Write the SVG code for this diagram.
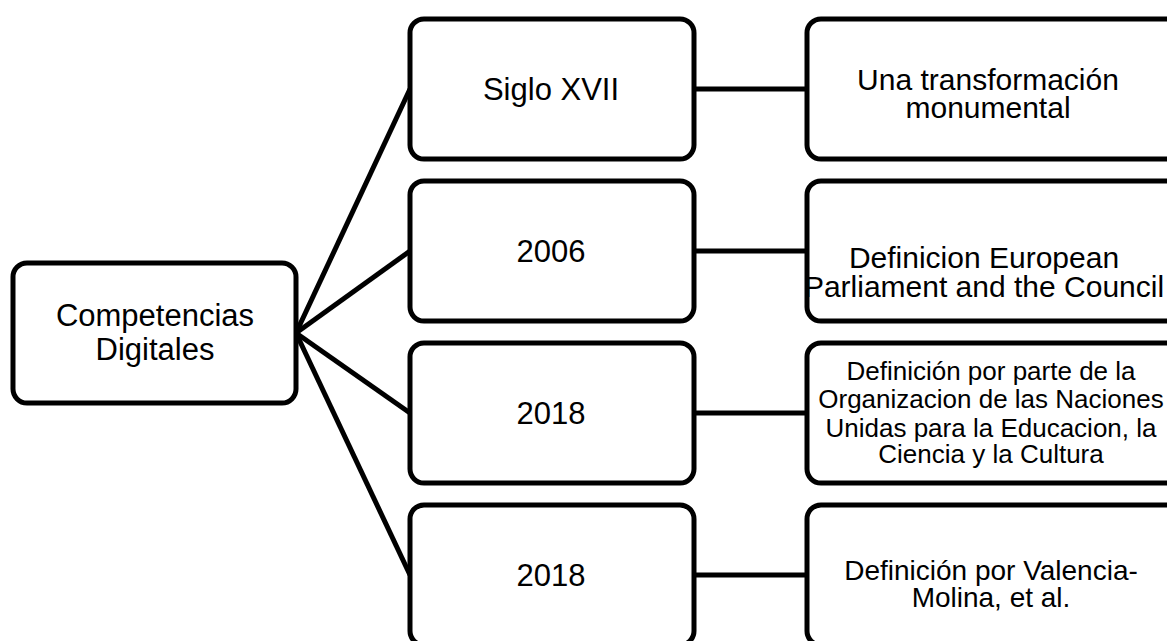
<svg xmlns="http://www.w3.org/2000/svg" width="1167" height="641" viewBox="0 0 1167 641">
<style>
.box{fill:#fff;stroke:#000;stroke-width:5}
.con{stroke:#000;stroke-width:5;fill:none}
text{font-family:"Liberation Sans",Arial,sans-serif;fill:#000;text-anchor:middle}
.l1{font-size:31px}
</style>
<rect width="1167" height="641" fill="#fff"/>
<g id="connectors">
<line class="con" x1="296" y1="333" x2="410" y2="89"/>
<line class="con" x1="296" y1="333" x2="410" y2="251"/>
<line class="con" x1="296" y1="333" x2="410" y2="413"/>
<line class="con" x1="296" y1="333" x2="410" y2="575"/>
<line class="con" x1="694" y1="89" x2="807" y2="89"/>
<line class="con" x1="694" y1="251" x2="807" y2="251"/>
<line class="con" x1="694" y1="413" x2="807" y2="413"/>
<line class="con" x1="694" y1="575" x2="807" y2="575"/>
</g>
<g id="root">
<rect class="box" x="13" y="263" width="283" height="140" rx="14"/>
<text class="l1" x="155" y="326">Competencias</text>
<text class="l1" x="155" y="360">Digitales</text>
</g>
<g id="n1">
<rect class="box" x="410" y="19" width="284" height="140" rx="14"/>
<text class="l1" x="551" y="100">Siglo XVII</text>
</g>
<g id="n2">
<rect class="box" x="410" y="181" width="284" height="140" rx="14"/>
<text class="l1" x="551" y="262">2006</text>
</g>
<g id="n3">
<rect class="box" x="410" y="343" width="284" height="140" rx="14"/>
<text class="l1" x="551" y="424">2018</text>
</g>
<g id="n4">
<rect class="box" x="410" y="505" width="284" height="140" rx="14"/>
<text class="l1" x="551" y="586">2018</text>
</g>
<g id="d1">
<rect class="box" x="807" y="19" width="400" height="140" rx="14"/>
<text x="988" y="90" font-size="30">Una transformación</text>
<text x="988" y="118" font-size="30">monumental</text>
</g>
<g id="d2">
<rect class="box" x="807" y="181" width="400" height="140" rx="14"/>
<text x="984" y="268" font-size="30">Definicion European</text>
<text x="984" y="297" font-size="30">Parliament and the Council</text>
</g>
<g id="d3">
<rect class="box" x="807" y="343" width="400" height="140" rx="14"/>
<text x="991" y="380" font-size="26">Definición por parte de la</text>
<text x="991" y="408" font-size="26">Organizacion de las Naciones</text>
<text x="991" y="437" font-size="26">Unidas para la Educacion, la</text>
<text x="991" y="463" font-size="26">Ciencia y la Cultura</text>
</g>
<g id="d4">
<rect class="box" x="807" y="505" width="400" height="140" rx="14"/>
<text x="991" y="580" font-size="28">Definición por Valencia-</text>
<text x="991" y="607" font-size="28">Molina, et al.</text>
</g>
</svg>
